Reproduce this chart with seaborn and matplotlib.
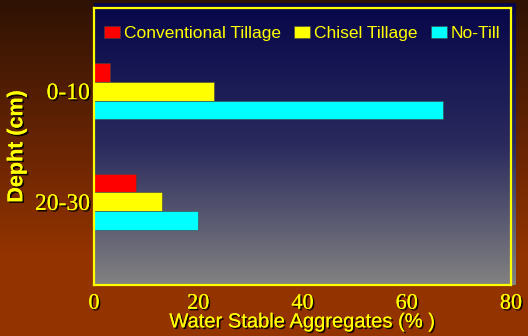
import matplotlib
matplotlib.use("Agg")
import matplotlib.pyplot as plt
import matplotlib.patheffects as pe
from matplotlib.colors import LinearSegmentedColormap
import numpy as np
import pandas as pd
import seaborn as sns

depths = ["0-10", "20-30"]
treatments = ["Conventional Tillage", "Chisel Tillage", "No-Till"]
conventional = [3, 8]
chisel = [23, 13]
no_till = [67, 20]
x_ticks = [0, 20, 40, 60, 80]

colors = ["#ff0000", "#ffff00", "#00ffff"]
yellow = "#ffff00"

df = pd.DataFrame({
    "depth": depths * 3,
    "treatment": [t for t in treatments for _ in depths],
    "value": conventional + chisel + no_till,
})

sns.set_style("white")
fig = plt.figure(figsize=(5.28, 3.36), dpi=100)

# figure background gradient (dark brown -> orange brown)
bg = fig.add_axes([0, 0, 1, 1], zorder=-10)
bg_cmap = LinearSegmentedColormap.from_list(
    "bg", [(0, "#2e1204"), (0.45, "#6a2503"), (0.75, "#923300"), (1, "#933300")])
bg.imshow(np.linspace(0, 1, 256).reshape(-1, 1), cmap=bg_cmap, aspect="auto",
          extent=[0, 1, 0, 1])
bg.set_axis_off()

ax = fig.add_axes([94 / 528, 1 - 285 / 336, (511 - 94) / 528, (285 - 8) / 336])
ax.patch.set_visible(False)
ax_cmap = LinearSegmentedColormap.from_list("axbg", ["#06064a", "#2a2a5e", "#828282"])
ax.imshow(np.linspace(0, 1, 256).reshape(-1, 1), cmap=ax_cmap, aspect="auto",
          extent=[0, 1.01, 0, 1.018], transform=ax.transAxes, zorder=0,
          clip_on=False)

sns.barplot(data=df, y="depth", x="value", hue="treatment", orient="h",
            palette=colors, saturation=1, width=0.51, ax=ax, zorder=3,
            edgecolor="#444444", linewidth=0.4)

ax.set_xlim(0, 80)
ax.set_ylim(1.75, -0.75)
ax.set_xticks(x_ticks)

shadow = [pe.withSimplePatchShadow(offset=(1.2, -1.2), shadow_rgbFace="black",
                                   alpha=0.9), pe.Normal()]

for s in ax.spines.values():
    s.set_color(yellow)
    s.set_linewidth(1.6)
    s.set_zorder(5)

ax.tick_params(axis="x", colors=yellow, length=6, width=1.5, direction="out",
               pad=1)
ax.tick_params(axis="y", length=0, pad=3)
for lab in ax.get_xticklabels():
    lab.set_fontfamily("Liberation Serif")
    lab.set_fontsize(16)
    lab.set_color(yellow)
    lab.set_path_effects(shadow)
for lab in ax.get_yticklabels():
    lab.set_fontfamily("Liberation Serif")
    lab.set_fontsize(17)
    lab.set_color(yellow)
    lab.set_path_effects(shadow)

ax.set_xlabel("Water Stable Aggregates (% )", fontsize=14.5, color=yellow,
              fontfamily="Liberation Sans", labelpad=-1, path_effects=shadow)
ax.set_ylabel("Depht (cm)", fontsize=15.5, fontweight="bold", color=yellow,
              fontfamily="Liberation Sans", path_effects=shadow)
ax.yaxis.set_label_coords(-0.16, 0.5)

leg = ax.legend(loc="upper center", bbox_to_anchor=(0.5, 0.96), ncol=3,
                frameon=False, fontsize=12.5, handlelength=0.9,
                handleheight=0.65, handletextpad=0.25, columnspacing=0.75,
                borderaxespad=0)
for t in leg.get_texts():
    t.set_color(yellow)
    t.set_fontfamily("Liberation Sans")

fig.savefig("out.png", dpi=100)
